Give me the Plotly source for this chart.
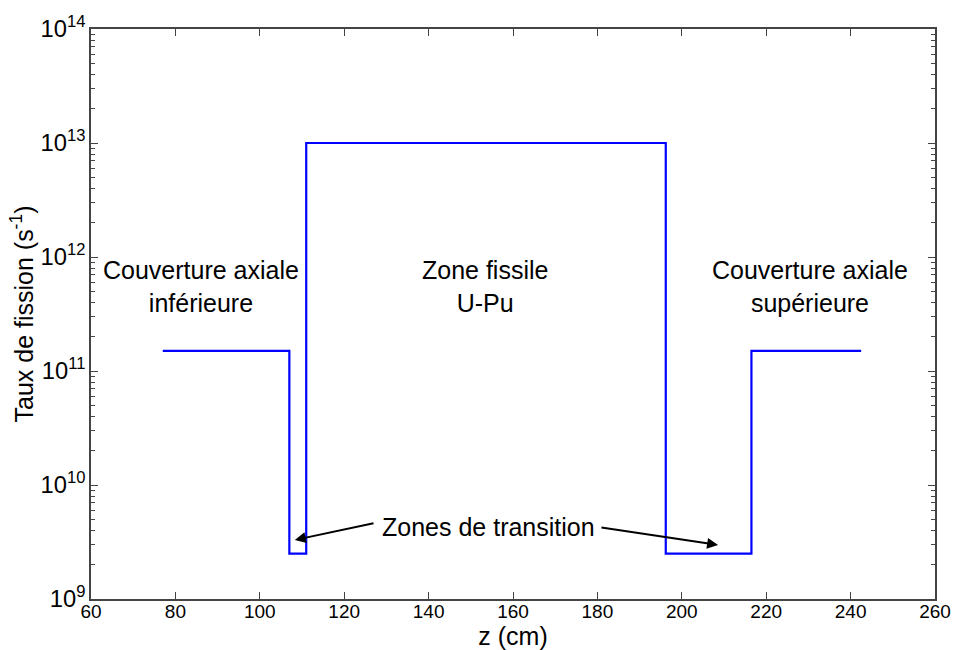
import plotly.graph_objects as go

# profil axial du taux de fission (marches)
z_cm = [77, 107, 111, 196.2, 216.5, 242.5]
taux = [1.5e11, 2.5e9, 1e13, 2.5e9, 1.5e11, 1.5e11]

labels = ["Couverture axiale<br>inférieure", "Zone fissile<br>U-Pu", "Couverture axiale<br>supérieure"]
label_x = [86.1, 153.4, 230.4]
label_y = [11.74, 11.74, 11.74]  # log10

decades = [9, 10, 11, 12, 13]
minor_vals = [k * 10**d for d in decades for k in range(2, 10)]

fig = go.Figure()
fig.add_trace(go.Scatter(x=z_cm, y=taux, mode='lines', line_shape='hv',
                         line=dict(color='#0000ff', width=2.2), showlegend=False, hoverinfo='skip'))
# trace fantome pour l'axe des graduations secondaires
fig.add_trace(go.Scatter(x=z_cm, y=taux, mode='lines', line=dict(width=0), yaxis='y2',
                         showlegend=False, hoverinfo='skip'))

font = dict(family='Arial, Liberation Sans', size=25, color='black')
for t, x, y in zip(labels, label_x, label_y):
    fig.add_annotation(x=x, y=y, text=t, showarrow=False, font=font)

fig.add_annotation(x=154.3, y=9.63, text="Zones de transition", showarrow=False, font=font)
# fleches
fig.add_annotation(x=108.3, y=9.518, ax=127.3, ay=9.667, xref='x', yref='y', axref='x', ayref='y',
                   text='', showarrow=True, arrowhead=2, arrowsize=1.1, arrowwidth=2, arrowcolor='black')
fig.add_annotation(x=208.6, y=9.474, ax=180.6, ay=9.63, xref='x', yref='y', axref='x', ayref='y',
                   text='', showarrow=True, arrowhead=2, arrowsize=1.1, arrowwidth=2, arrowcolor='black')

tickfont = dict(family='Arial, Liberation Sans', size=19, color='black')
axis_common = dict(showline=True, linecolor='#444', linewidth=1.5, mirror='ticks', ticks='inside',
                   tickcolor='#444', ticklen=7, showgrid=False, zeroline=False, automargin=False,
                   tickfont=tickfont)

fig.update_layout(
    width=954, height=650,
    paper_bgcolor='white', plot_bgcolor='white',
    margin=dict(l=91, r=19, t=29, b=51),
    xaxis=dict(range=[60, 260], dtick=20, tick0=60, ticklabelstandoff=-6,
               title=dict(text='z (cm)', font=font, standoff=0), **axis_common),
    yaxis=dict(type='log', range=[9, 14], dtick=1, exponentformat='power',
               title=dict(text='Taux de fission (s<sup>-1</sup>)', font=font, standoff=0), **axis_common),
    yaxis2=dict(type='log', range=[9, 14], overlaying='y', side='left', tickmode='array',
                tickvals=minor_vals, showticklabels=False, ticks='inside', ticklen=4,
                tickcolor='#444', showline=True, linecolor='#444', linewidth=1.5, mirror='ticks',
                showgrid=False, zeroline=False, automargin=False),
)

# pas de marge de page autour de la figure
fig.write_html("out.html", config={'displayModeBar': False},
               post_script="document.body.style.margin='0';")
